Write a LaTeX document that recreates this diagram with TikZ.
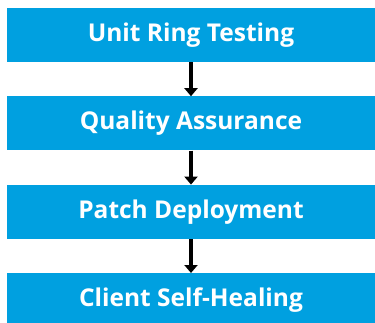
\documentclass[tikz,border=0pt]{standalone}
\usepackage{fontspec}
\setmainfont{Open Sans}
\usetikzlibrary{positioning,arrows.meta}
\definecolor{stepblue}{RGB}{0,160,224}
\tikzset{
  stage/.style={fill=stepblue, text=white, minimum width=368pt, minimum height=54pt,
    inner sep=0pt, font=\bfseries\fontsize{24.5}{27}\selectfont},
  flow/.style={-{Triangle[length=8pt,width=13pt]}, line width=4pt, black}
}
\begin{document}
\begin{tikzpicture}[x=1pt,y=1pt]
                    \useasboundingbox (0,0) rectangle (375,322);

                    \node[stage] (unit) at (191,287) {Unit Ring Testing};
                    \node[stage, below=34pt of unit] (qa) {Quality Assurance};
                    \node[stage, below=34pt of qa] (patch) {Patch Deployment};
                    \node[stage, below=34pt of patch] (heal) {Client Self-Healing};

                    \draw[flow] (unit) -- (qa);
                    \draw[flow] (qa) -- (patch);
                    \draw[flow] (patch) -- (heal);

                \end{tikzpicture}
\end{document}
